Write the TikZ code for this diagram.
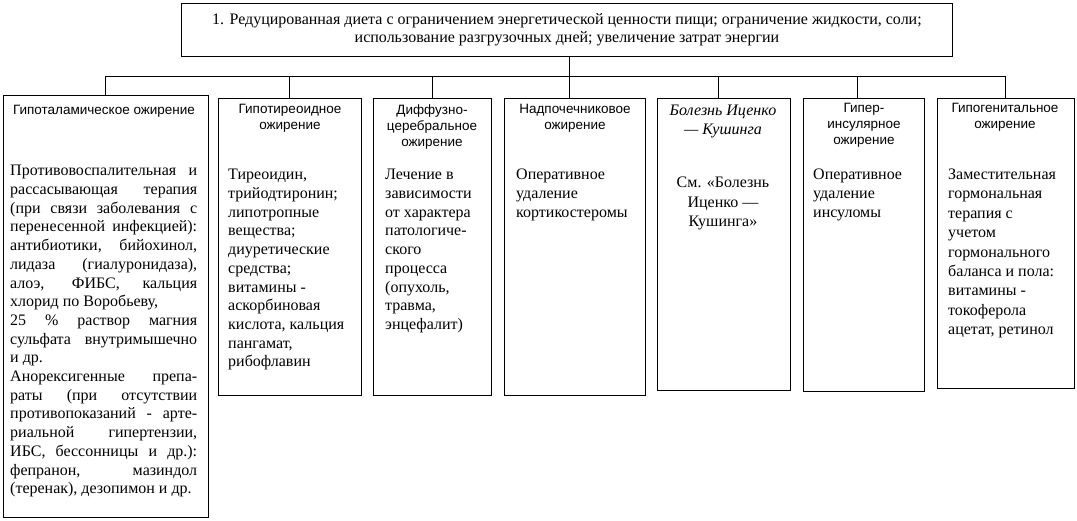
\documentclass[tikz,border=0pt]{standalone}
\usepackage{fontspec}
\setmainfont{Liberation Serif}
\newfontfamily\hsans{Liberation Sans}
\newcommand{\JL}[1]{\makebox[187pt][s]{#1}}
\newcommand{\NL}[1]{\makebox[187pt][l]{#1}}
\begin{document}
\begin{tikzpicture}[x=1pt,y=-1pt,
  box/.style={draw, line width=1pt, inner sep=0pt, anchor=north west},
  head/.style={font=\hsans\fontsize{13.5}{16}\selectfont, align=center, inner sep=0pt, anchor=north, execute at begin node=\strut},
  ihead/.style={font=\itshape\fontsize{16}{19}\selectfont, align=center, inner sep=0pt, anchor=north, execute at begin node=\strut},
  body/.style={font=\fontsize{16}{18.7}\selectfont, align=left, inner sep=0pt, anchor=north west, execute at begin node=\strut},
  cbody/.style={font=\fontsize{16}{19.3}\selectfont, align=center, inner sep=0pt, anchor=north, execute at begin node=\strut},
  conn/.style={line width=1pt}]
\useasboundingbox (0,0) rectangle (1077,520);
\fill[white] (0,0) rectangle (1077,520);
% top box
\node[box, minimum width=771pt, minimum height=53pt, align=center,
  font=\fontsize{16}{17.8}\selectfont] (top) at (181,3)
  {1. Редуцированная диета с ограничением энергетической ценности пищи; ограничение жидкости, соли;\\
   использование разгрузочных дней; увеличение затрат энергии};
% column boxes
\node[box, minimum width=205pt, minimum height=422pt] (b1) at (3,95) {};
\node[box, minimum width=143pt, minimum height=297pt] (b2) at (218,98) {};
\node[box, minimum width=118pt, minimum height=297pt] (b3) at (373,98) {};
\node[box, minimum width=141pt, minimum height=297pt] (b4) at (504,98) {};
\node[box, minimum width=133pt, minimum height=292pt] (b5) at (657,98) {};
\node[box, minimum width=121pt, minimum height=293pt] (b6) at (803,98) {};
\node[box, minimum width=137pt, minimum height=290pt] (b7) at (937,98) {};
% connectors
\coordinate (j1) at (105,76);
\coordinate (j2) at (289,76);
\coordinate (j3) at (432,76);
\coordinate (j4) at (569,76);
\coordinate (j5) at (718,76);
\coordinate (j6) at (857,76);
\coordinate (j7) at (1005,76);
\draw[conn] (j1) -- (j7);
\draw[conn] (j4 |- top.south) -- (j4);
\draw[conn] (j1) -- (j1 |- b1.north);
\draw[conn] (j2) -- (j2 |- b2.north);
\draw[conn] (j3) -- (j3 |- b3.north);
\draw[conn] (j4) -- (j4 |- b4.north);
\draw[conn] (j5) -- (j5 |- b5.north);
\draw[conn] (j6) -- (j6 |- b6.north);
\draw[conn] (j7) -- (j7 |- b7.north);
% headings
\node[head] (h1) at (104,103.1) {Гипоталамическое ожирение};
\node[head] (h2) at (290,104.5) {Гипотиреоидное\\ожирение};
\node[head] (h3) at (432,104.5) {Диффузно-\\церебральное\\ожирение};
\node[head] (h4) at (575,104.5) {Надпочечниковое\\ожирение};
\node[ihead] (h5) at (723,104.4) {Болезнь Иценко\\— Кушинга};
\node[head] (h6) at (864,103.1) {Гипер-\\инсулярное\\ожирение};
\node[head] (h7) at (1005,103.1) {Гипогенитальное\\ожирение};
% bodies
\node[body] (t1) at (10,165.2) {\JL{Противовоспалительная и}\\
\JL{рассасывающая терапия}\\
\JL{(при связи заболевания с}\\
\JL{перенесенной инфекцией):}\\
\JL{антибиотики, бийохинол,}\\
\JL{лидаза (гиалуронидаза),}\\
\JL{алоэ, ФИБС, кальция}\\
\NL{хлорид по Воробьеву,}\\
\JL{25 \% раствор магния}\\
\JL{сульфата внутримышечно}\\
\NL{и др.}\\
\JL{Анорексигенные препа-}\\
\JL{раты (при отсутствии}\\
\JL{противопоказаний - арте-}\\
\JL{риальной гипертензии,}\\
\JL{ИБС, бессонницы и др.):}\\
\JL{фепранон, мазиндол}\\
\NL{(теренак), дезопимон и др.}};
\node[body] (t2) at (228,169.2) {Тиреоидин,\\трийодтиронин;\\липотропные\\вещества;\\диуретические\\средства;\\витамины -\\аскорбиновая\\кислота, кальция\\пангамат,\\рибофлавин};
\node[body] (t3) at (385,169.2) {Лечение в\\зависимости\\от характера\\патологиче-\\ского\\процесса\\(опухоль,\\травма,\\энцефалит)};
\node[body] (t4) at (516,169.2) {Оперативное\\удаление\\кортикостеромы};
\node[cbody] (t5) at (723,177.2) {См. «Болезнь\\Иценко —\\Кушинга»};
\node[body] (t6) at (813,169.2) {Оперативное\\удаление\\инсуломы};
\node[body, font=\fontsize{16}{19.4}\selectfont] (t7) at (948,168.7) {Заместительная\\гормональная\\терапия с\\учетом\\гормонального\\баланса и пола:\\витамины -\\токоферола\\ацетат, ретинол};
\end{tikzpicture}
\end{document}
